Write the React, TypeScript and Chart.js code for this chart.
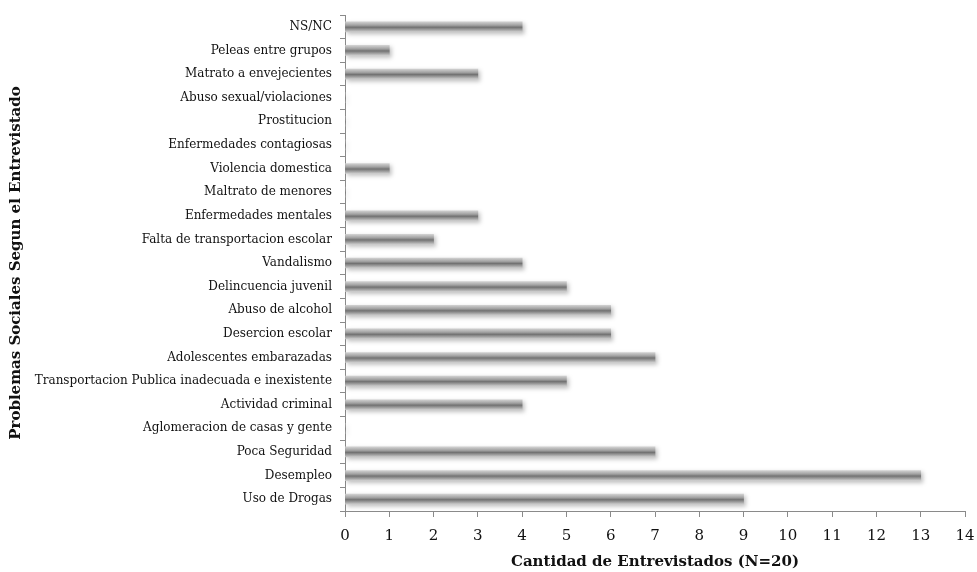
import React, { useEffect, useRef } from "react";
import { Chart, registerables } from "chart.js";

Chart.register(...registerables);

const categories = [
  "NS/NC",
  "Peleas entre grupos",
  "Matrato a envejecientes",
  "Abuso sexual/violaciones",
  "Prostitucion",
  "Enfermedades contagiosas",
  "Violencia domestica",
  "Maltrato de menores",
  "Enfermedades mentales",
  "Falta de transportacion escolar",
  "Vandalismo",
  "Delincuencia juvenil",
  "Abuso de alcohol",
  "Desercion escolar",
  "Adolescentes embarazadas",
  "Transportacion Publica inadecuada e inexistente",
  "Actividad criminal",
  "Aglomeracion de casas y gente",
  "Poca Seguridad",
  "Desempleo",
  "Uso de Drogas",
];

const counts = [4, 1, 3, 0, 0, 0, 1, 0, 3, 2, 4, 5, 6, 6, 7, 5, 4, 0, 7, 13, 9];

const xTitle = "Cantidad de Entrevistados (N=20)";
const yTitle = "Problemas Sociales Segun el Entrevistado";

const SERIF = "'DejaVu Serif', 'Liberation Serif', serif";

const shadowPlugin = {
  id: "barShadow",
  beforeDatasetsDraw(chart: any) {
    const ctx = chart.ctx;
    ctx.save();
    ctx.shadowColor = "rgba(0,0,0,0.25)";
    ctx.shadowBlur = 4;
    ctx.shadowOffsetX = 2;
    ctx.shadowOffsetY = 2;
  },
  afterDatasetsDraw(chart: any) {
    chart.ctx.restore();
  },
};

export default function App() {
  const ref = useRef<HTMLCanvasElement | null>(null);
  useEffect(() => {
    if (!ref.current) return;
    const chart = new Chart(ref.current, {
      type: "bar",
      data: {
        labels: categories,
        datasets: [
          {
            data: counts,
            barThickness: 10,
            borderWidth: 0,
            backgroundColor: (c: any) => {
              const ch = c.chart;
              const ys = ch.scales && ch.scales.y;
              if (!ys || c.dataIndex === undefined) return "#888";
              const yc = ys.getPixelForValue(c.dataIndex);
              if (!isFinite(yc)) return "#888";
              const g = ch.ctx.createLinearGradient(0, yc - 5, 0, yc + 5);
              g.addColorStop(0, "#d0d0d0");
              g.addColorStop(0.35, "#a0a0a0");
              g.addColorStop(0.55, "#727272");
              g.addColorStop(0.8, "#a2a2a2");
              g.addColorStop(1, "#cccccc");
              return g;
            },
          },
        ],
      },
      options: {
        indexAxis: "y",
        animation: false,
        responsive: true,
        maintainAspectRatio: false,
        layout: { padding: { top: 15, right: 0, left: 0, bottom: 0 } },
        plugins: { legend: { display: false }, tooltip: { enabled: false } },
        scales: {
          x: {
            min: 0,
            max: 14,
            ticks: {
              stepSize: 1,
              color: "#111",
              font: { family: SERIF, size: 15 },
              padding: 10,
            },
            grid: {
              drawOnChartArea: false,
              drawTicks: true,
              tickLength: 6,
              color: "#8a8a8a",
            },
            border: { color: "#8a8a8a", width: 1 },
            title: {
              display: true,
              text: xTitle,
              color: "#111",
              font: { family: SERIF, size: 15, weight: "bold" },
              padding: { top: 2, bottom: 1 },
            },
            afterFit: (s: any) => {
              s.height = 61;
              s.paddingRight = 12;
              s.paddingLeft = 0;
            },
          },
          y: {
            ticks: {
              color: "#111",
              font: { family: SERIF, size: 12 },
              padding: 8,
              autoSkip: false,
            },
            grid: {
              offset: true,
              drawOnChartArea: false,
              drawTicks: true,
              tickLength: 5,
              color: "#8a8a8a",
            },
            border: { color: "#8a8a8a", width: 1 },
            title: {
              display: true,
              text: yTitle,
              color: "#111",
              font: { family: SERIF, size: 15, weight: "bold" },
              padding: { top: 7, bottom: 4 },
            },
            afterFit: (s: any) => {
              s.width = 345;
              s.paddingTop = 0;
              s.paddingBottom = 0;
            },
          },
        },
      },
      plugins: [shadowPlugin],
    } as any);
    return () => chart.destroy();
  }, []);
  return (
    <div style={{ position: "fixed", left: 0, top: 0, width: 977, height: 572, background: "#fff" }}>
      <canvas ref={ref} />
    </div>
  );
}
